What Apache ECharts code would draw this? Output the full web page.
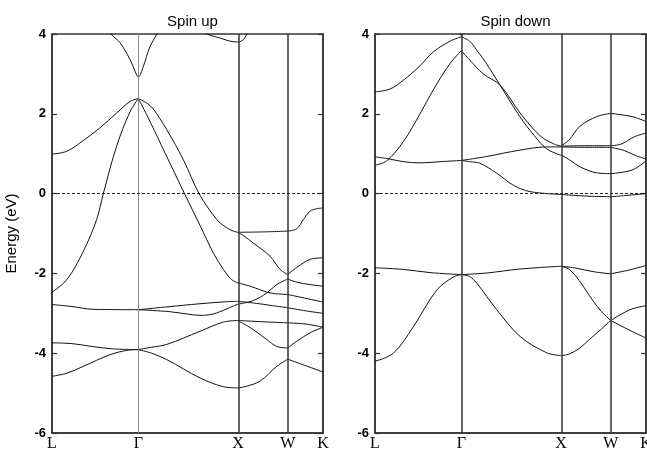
<!DOCTYPE html>
<html>
<head>
<meta charset="utf-8">
<script src="https://cdn.jsdelivr.net/npm/echarts@6/dist/echarts.min.js"></script>
<style>
  body { margin: 0; background: #fff; }
  #chart { width: 647px; height: 455px; }
</style>
</head>
<body>
<div id="chart"></div>
<script>
const kPoints = [0, 0.866, 1.866, 2.366, 2.72];
const kLabels = ['L', 'Γ', 'X', 'W', 'K'];
const panelTitles = ['Spin up', 'Spin down'];
const energyMin = -6, energyMax = 4, energyStep = 2;

// spin up, one list per path segment, each curve is [k, E] pairs
const upLG = [
  [[0, 0.99], [0.148, 1.06], [0.314, 1.33], [0.482, 1.65], [0.65, 2.02], [0.783, 2.31], [0.866, 2.38]],
  [[0, -2.47], [0.148, -2.16], [0.314, -1.45], [0.448, -0.65], [0.515, 0], [0.65, 1.2], [0.783, 2.05], [0.866, 2.38]],
  [[0, -2.78], [0.2, -2.83], [0.41, -2.9], [0.866, -2.91]],
  [[0, -3.74], [0.2, -3.76], [0.4, -3.83], [0.6, -3.89], [0.866, -3.91]],
  [[0, -4.58], [0.15, -4.5], [0.314, -4.33], [0.58, -4.04], [0.75, -3.93], [0.866, -3.91]]
];
const upGX = [
  [[0.866, 2.38], [0.951, 2.27], [1.017, 2.12], [1.152, 1.6], [1.318, 0.85], [1.476, 0], [1.654, -0.65], [1.75, -0.85], [1.82, -0.94], [1.866, -0.97]],
  [[0.866, 2.38], [0.95, 1.98], [1.1, 1.2], [1.33, 0], [1.486, -0.8], [1.62, -1.49], [1.72, -1.9], [1.8, -2.15], [1.866, -2.24]],
  [[0.866, -2.91], [1.152, -2.84], [1.486, -2.76], [1.75, -2.71], [1.866, -2.7]],
  [[0.866, -2.91], [1.185, -2.96], [1.42, -3.04], [1.52, -3.05], [1.654, -2.99], [1.78, -2.86], [1.866, -2.77]],
  [[0.866, -3.91], [1.0, -3.85], [1.152, -3.78], [1.486, -3.45], [1.72, -3.22], [1.866, -3.18]],
  [[0.866, -3.91], [1.0, -4.0], [1.152, -4.16], [1.486, -4.62], [1.72, -4.84], [1.866, -4.87]]
];
const upXW = [
  [[1.866, -0.97], [2.118, -0.96], [2.366, -0.94]],
  [[1.866, -0.97], [1.92, -1.05], [2.021, -1.24], [2.189, -1.57], [2.289, -1.9], [2.366, -2.03]],
  [[1.866, -2.24], [1.988, -2.32], [2.088, -2.41], [2.189, -2.49], [2.366, -2.53]],
  [[1.866, -2.7], [2.05, -2.75], [2.189, -2.8], [2.366, -2.86]],
  [[1.866, -2.77], [2.021, -2.68], [2.156, -2.49], [2.256, -2.28], [2.366, -2.14]],
  [[1.866, -3.18], [2.1, -3.21], [2.366, -3.24]],
  [[1.866, -3.18], [2.021, -3.41], [2.156, -3.66], [2.256, -3.83], [2.366, -3.87]],
  [[1.866, -4.87], [1.95, -4.83], [2.088, -4.7], [2.256, -4.33], [2.366, -4.15]]
];
const upWK = [
  [[2.366, -0.94], [2.457, -0.88], [2.523, -0.65], [2.59, -0.44], [2.658, -0.38], [2.72, -0.36]],
  [[2.366, -2.03], [2.457, -1.85], [2.59, -1.65], [2.72, -1.61]],
  [[2.366, -2.14], [2.457, -2.22], [2.59, -2.28], [2.72, -2.32]],
  [[2.366, -2.53], [2.5, -2.6], [2.72, -2.72]],
  [[2.366, -2.86], [2.55, -2.94], [2.72, -3.0]],
  [[2.366, -3.24], [2.55, -3.27], [2.72, -3.35]],
  [[2.366, -3.87], [2.457, -3.7], [2.59, -3.49], [2.72, -3.35]],
  [[2.366, -4.15], [2.5, -4.27], [2.72, -4.47]]
];
const upTop = [
  [[0.532, 4.25], [0.592, 4.0], [0.683, 3.78], [0.783, 3.36], [0.833, 3.07], [0.866, 2.92], [0.917, 3.19], [0.984, 3.69], [1.054, 4.0], [1.104, 4.25]],
  [[1.5, 4.1], [1.553, 4.0], [1.687, 3.9], [1.787, 3.82], [1.866, 3.8], [1.921, 3.86], [1.955, 4.0], [1.99, 4.2]]
];

// spin down
const downLG = [
  [[0, 2.55], [0.15, 2.62], [0.284, 2.84], [0.45, 3.2], [0.585, 3.55], [0.753, 3.82], [0.866, 3.93]],
  [[0, 0.71], [0.117, 0.82], [0.284, 1.3], [0.452, 2.0], [0.585, 2.6], [0.75, 3.25], [0.866, 3.58]],
  [[0, 0.92], [0.12, 0.88], [0.284, 0.8], [0.452, 0.77], [0.653, 0.8], [0.866, 0.83]],
  [[0, -1.86], [0.284, -1.9], [0.552, -1.98], [0.866, -2.03]],
  [[0, -4.2], [0.184, -4.0], [0.384, -3.34], [0.619, -2.42], [0.786, -2.09], [0.866, -2.03]]
];
const downGX = [
  [[0.866, 3.93], [0.95, 3.82], [1.02, 3.6], [1.121, 3.25], [1.255, 2.72], [1.456, 1.92], [1.6, 1.45], [1.724, 1.12], [1.866, 0.96]],
  [[0.866, 3.58], [0.95, 3.35], [1.087, 3.0], [1.255, 2.72], [1.456, 2.02], [1.657, 1.45], [1.79, 1.25], [1.866, 1.19]],
  [[0.866, 0.83], [1.12, 0.93], [1.456, 1.09], [1.724, 1.17], [1.866, 1.17]],
  [[0.866, 0.83], [0.95, 0.8], [1.054, 0.76], [1.222, 0.51], [1.389, 0.21], [1.556, 0.05], [1.866, -0.02]],
  [[0.866, -2.03], [1.121, -1.99], [1.456, -1.89], [1.866, -1.82]],
  [[0.866, -2.03], [0.95, -2.08], [1.02, -2.24], [1.222, -2.91], [1.456, -3.58], [1.724, -3.99], [1.866, -4.06]]
];
const downXW = [
  [[1.866, 1.19], [1.95, 1.35], [2.058, 1.69], [2.226, 1.93], [2.366, 2.01]],
  [[1.866, 1.19], [2.1, 1.2], [2.366, 1.2]],
  [[1.866, 1.17], [2.1, 1.16], [2.366, 1.16]],
  [[1.866, 0.97], [1.95, 0.85], [2.058, 0.67], [2.226, 0.52], [2.366, 0.5]],
  [[1.866, -0.02], [2.1, -0.06], [2.366, -0.08]],
  [[1.866, -1.82], [2.0, -1.86], [2.2, -1.96], [2.366, -2.01]],
  [[1.866, -4.06], [1.95, -4.02], [2.05, -3.88], [2.15, -3.66], [2.26, -3.42], [2.366, -3.18]],
  [[1.866, -1.82], [1.95, -1.9], [2.05, -2.18], [2.15, -2.55], [2.26, -2.92], [2.366, -3.18]]
];
const downWK = [
  [[2.366, 2.01], [2.58, 1.93], [2.72, 1.81]],
  [[2.366, 1.2], [2.47, 1.24], [2.6, 1.42], [2.72, 1.52]],
  [[2.366, 1.16], [2.5, 1.08], [2.62, 0.95], [2.72, 0.87]],
  [[2.366, 0.5], [2.58, 0.59], [2.72, 0.82]],
  [[2.366, -0.08], [2.55, -0.04], [2.72, 0]],
  [[2.366, -2.01], [2.56, -1.91], [2.72, -1.8]],
  [[2.366, -3.18], [2.56, -2.91], [2.72, -2.81]],
  [[2.366, -3.18], [2.56, -3.43], [2.72, -3.62]]
];
const downTop = [
  [[0.83, 4.12], [0.866, 3.97], [0.9, 4.12]]
];

const panelCurves = [
  [...upLG, ...upGX, ...upXW, ...upWK, ...upTop],
  [...downLG, ...downGX, ...downXW, ...downWK, ...downTop]
];

const grids = [
  { left: 52, top: 34, width: 271, height: 399 },
  { left: 375, top: 34, width: 271, height: 399 }
];

const kLabel = (v) => {
  let best = 0;
  kPoints.forEach((p, i) => { if (Math.abs(p - v) < Math.abs(kPoints[best] - v)) best = i; });
  return kLabels[best];
};

const frame = { show: true, onZero: false, lineStyle: { color: '#333', width: 1.5 } };

const xAxes = grids.map((g, i) => ({
  gridIndex: i, type: 'value', min: 0, max: kPoints[kPoints.length - 1],
  axisLine: frame, axisTick: { show: false }, splitLine: { show: false },
  axisLabel: {
    customValues: kPoints, formatter: kLabel, margin: 3, hideOverlap: false,
    fontFamily: 'Liberation Serif', fontSize: 16, color: '#000'
  }
}));

const yAxes = [];
grids.forEach((g, i) => {
  yAxes.push({
    gridIndex: i, type: 'value', min: energyMin, max: energyMax, interval: energyStep,
    axisLine: frame, splitLine: { show: false },
    axisTick: { inside: true, length: 5, lineStyle: { color: '#333', width: 1.2 } },
    axisLabel: { fontFamily: 'Liberation Sans', fontSize: 13, fontWeight: 'bold', color: '#000', margin: 6 },
    name: i === 0 ? 'Energy (eV)' : '', nameLocation: 'middle', nameGap: 33,
    nameTextStyle: { fontFamily: 'Liberation Sans', fontSize: 15, color: '#000' }
  });
  yAxes.push({
    gridIndex: i, type: 'value', position: 'right', min: energyMin, max: energyMax, interval: energyStep,
    axisLine: frame, splitLine: { show: false },
    axisTick: { inside: true, length: 5, lineStyle: { color: '#333', width: 1.2 } },
    axisLabel: { show: false }
  });
});

const series = [];
panelCurves.forEach((curves, p) => {
  const gammaStyle = p === 0 ? { color: '#888', width: 1, type: 'solid' } : { color: '#333', width: 1.5, type: 'solid' };
  series.push({
    type: 'line', xAxisIndex: p, yAxisIndex: p * 2, data: [], silent: true,
    markLine: {
      silent: true, symbol: ['none', 'none'], label: { show: false }, animation: false,
      data: [
        { xAxis: kPoints[1], lineStyle: gammaStyle },
        { xAxis: kPoints[2], lineStyle: { color: '#333', width: 1.5, type: 'solid' } },
        { xAxis: kPoints[3], lineStyle: { color: '#333', width: 1.5, type: 'solid' } },
        { yAxis: 0, lineStyle: { color: '#222', width: 1, type: [3, 2] } }
      ]
    }
  });
  curves.forEach(c => {
    series.push({
      type: 'line', xAxisIndex: p, yAxisIndex: p * 2, data: c,
      smooth: 0.35, showSymbol: false, symbol: 'none', silent: true,
      lineStyle: { color: '#111', width: 1 }
    });
  });
});

const chart = echarts.init(document.getElementById('chart'), null, { renderer: 'canvas' });
chart.setOption({
  animation: false,
  backgroundColor: '#fff',
  title: grids.map((g, i) => ({
    text: panelTitles[i], left: g.left + g.width / 2, top: 9, textAlign: 'center',
    textStyle: { fontFamily: 'Liberation Sans', fontSize: 15, fontWeight: 'normal', color: '#000' }
  })),
  grid: grids.map(g => ({ ...g, show: true, borderColor: '#333', borderWidth: 1.5, backgroundColor: 'transparent', outerBoundsMode: 'none', containLabel: false })),
  xAxis: xAxes,
  yAxis: yAxes,
  series
});
</script>
</body>
</html>
